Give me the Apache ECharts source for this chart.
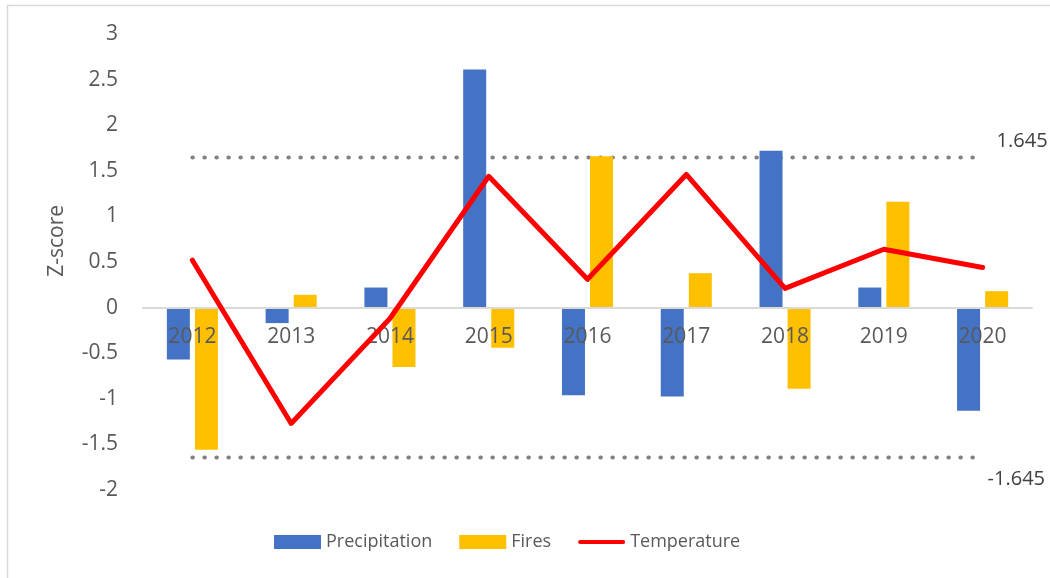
<!DOCTYPE html>
<html>
<head>
<meta charset="utf-8">
<script src="https://cdn.jsdelivr.net/npm/echarts@6/dist/echarts.min.js"></script>
<style>
  html, body { margin: 0; padding: 0; background: #fff; }
  #chart { width: 1050px; height: 578px; }
</style>
</head>
<body>
<div id="chart"></div>
<script>
// Annual z-scores, 2012–2020
const years = ['2012', '2013', '2014', '2015', '2016', '2017', '2018', '2019', '2020'];
const precipitation = [-0.57, -0.17, 0.22, 2.61, -0.96, -0.975, 1.72, 0.22, -1.13];
const fires = [-1.56, 0.14, -0.65, -0.44, 1.66, 0.377, -0.89, 1.16, 0.18];
const temperature = [0.52, -1.27, -0.12, 1.44, 0.31, 1.46, 0.21, 0.64, 0.44];
// Significance thresholds (90% two-sided)
const upperThreshold = 1.645;
const lowerThreshold = -1.645;

const yMin = -2;
const yMax = 3;

const textColor = '#595959';
const fontFamily = '"Open Sans", "Liberation Sans", sans-serif';

const gridTop = 34;
const gridBottom = 88;
const chartHeight = 578;
const plotHeight = chartHeight - gridTop - gridBottom;
// Lift the category axis (line and labels) up to the zero level
const zeroOffset = -((0 - yMin) / (yMax - yMin)) * plotHeight;

const chart = echarts.init(document.getElementById('chart'), null, { renderer: 'canvas' });

function thresholdSeries(value, offset) {
  return {
    name: 'threshold ' + value,
    type: 'line',
    data: years.map(() => value),
    symbol: 'none',
    silent: true,
    z: 1,
    lineStyle: { color: '#808080', width: 4, type: [0.5, 11.5], cap: 'round' },
    endLabel: {
      show: true,
      formatter: String(value),
      color: '#404040',
      fontFamily: fontFamily,
      fontSize: 20,
      offset: offset
    }
  };
}

// Legend icon for the temperature line: a thin rounded bar inside a 47x14 box
const lineIcon = 'path://M0,0 M2,5 L45,5 A2,2 0 0 1 45,9 L2,9 A2,2 0 0 1 2,5 Z M47,14';

chart.setOption({
  animation: false,
  backgroundColor: '#ffffff',
  textStyle: { fontFamily: fontFamily },
  grid: { left: 143, right: 18, top: gridTop, bottom: gridBottom, containLabel: false },
  legend: {
    data: [
      { name: 'Precipitation', icon: 'rect' },
      { name: 'Fires', icon: 'rect' },
      { name: 'Temperature', icon: lineIcon }
    ],
    left: 274,
    top: 533,
    padding: 0,
    itemWidth: 47,
    itemHeight: 14,
    itemGap: 27,
    textStyle: { color: textColor, fontSize: 18, fontFamily: fontFamily }
  },
  xAxis: {
    type: 'category',
    data: years,
    position: 'bottom',
    offset: zeroOffset,
    z: 6,
    axisLine: { onZero: false, lineStyle: { color: '#d9d9d9', width: 2 } },
    axisTick: { show: false },
    axisLabel: { color: textColor, fontSize: 21, margin: 19, fontFamily: fontFamily },
    splitLine: { show: false }
  },
  yAxis: {
    type: 'value',
    min: yMin,
    max: yMax,
    interval: 0.5,
    axisLine: { show: false },
    axisTick: { show: false },
    splitLine: { show: false },
    axisLabel: { color: textColor, fontSize: 21, margin: 25, fontFamily: fontFamily }
  },
  graphic: [
    {
      type: 'text',
      left: 47,
      top: 205,
      rotation: Math.PI / 2,
      style: { text: 'Z-score', fill: textColor, fontSize: 21, fontFamily: fontFamily }
    },
    {
      type: 'polyline',
      shape: { points: [[7.5, 578], [7.5, 5.5], [1050, 5.5]] },
      style: { stroke: '#d9d9d9', lineWidth: 1.5, fill: null },
      silent: true
    }
  ],
  series: [
    {
      name: 'Precipitation',
      type: 'bar',
      data: precipitation,
      barWidth: 23,
      barGap: '22%',
      itemStyle: { color: '#4472C4' },
      z: 2
    },
    {
      name: 'Fires',
      type: 'bar',
      data: fires,
      barWidth: 23,
      barGap: '22%',
      itemStyle: { color: '#FFC000' },
      z: 2
    },
    thresholdSeries(upperThreshold, [6, -16]),
    thresholdSeries(lowerThreshold, [-3, 22]),
    {
      name: 'Temperature',
      type: 'line',
      data: temperature,
      symbol: 'none',
      z: 8,
      lineStyle: { color: '#FF0000', width: 5, cap: 'round', join: 'round' },
      itemStyle: { color: '#FF0000' }
    }
  ]
});
</script>
</body>
</html>
